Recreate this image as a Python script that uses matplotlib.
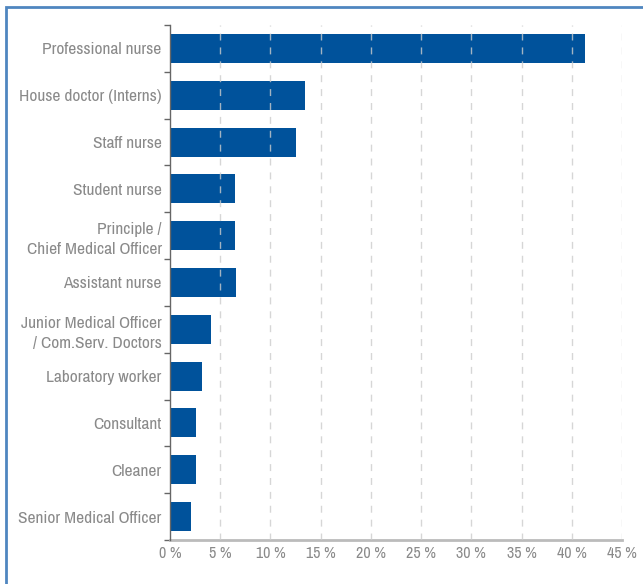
import matplotlib.pyplot as plt
from matplotlib.patches import Rectangle
from matplotlib.ticker import FixedLocator, FuncFormatter

plt.rcParams['font.family'] = ['Archivo Narrow', 'Roboto Condensed', 'DejaVu Sans']

# share of respondents per occupation (%)
occupations = [
    "Professional nurse",
    "House doctor (Interns)",
    "Staff nurse",
    "Student nurse",
    "Principle /\nChief Medical Officer",
    "Assistant nurse",
    "Junior Medical Officer\n/ Com.Serv. Doctors",
    "Laboratory worker",
    "Consultant",
    "Cleaner",
    "Senior Medical Officer",
]
shares = [41.3, 13.4, 12.5, 6.5, 6.5, 6.6, 4.1, 3.2, 2.6, 2.6, 2.1]
x_ticks = [0, 5, 10, 15, 20, 25, 30, 35, 40, 45]

bar_color = "#00529b"
text_color = "#8a8a8a"

fig = plt.figure(figsize=(6.43, 5.84), dpi=100)
ax = fig.add_axes([170 / 643, 1 - 540 / 584, 452 / 643, 515 / 584])

pos = list(range(len(occupations)))
ax.barh(pos, shares, height=0.62, color=bar_color, zorder=2)
ax.set_ylim(len(occupations) - 0.5, -0.5)
ax.set_xlim(0, 45)

ax.set_yticks(pos)
ax.set_yticklabels(occupations, fontsize=12.5, color=text_color, linespacing=1.4)
ax.tick_params(axis="y", length=0, pad=6)
# small marks between categories on the left spine
ax.yaxis.set_minor_locator(FixedLocator([p - 0.5 for p in pos] + [len(pos) - 0.5]))
ax.tick_params(axis="y", which="minor", length=4, color="#666666", width=1)

ax.set_xticks(x_ticks)
ax.xaxis.set_major_formatter(FuncFormatter(lambda v, _: f"{v:.0f} %"))
ax.tick_params(axis="x", length=0, pad=4, labelsize=11.5, labelcolor=text_color)

# dashed vertical grid, drawn over the bars
for v in x_ticks[1:]:
    ax.axvline(v, color="#cccccc", lw=1, ls=(0, (5, 5)), alpha=0.8, zorder=3)

for side in ("top", "right"):
    ax.spines[side].set_visible(False)
ax.spines["left"].set_color("#666666")
ax.spines["left"].set_linewidth(1)
ax.spines["left"].set_zorder(4)
ax.spines["bottom"].set_color("#bbbbbb")
ax.spines["bottom"].set_linewidth(2)

# outer frame (runs off the right and bottom edges)
fig.patches.append(Rectangle((5.5 / 643, -0.1), 1.2, 1 - 6.5 / 584 + 0.1,
                             transform=fig.transFigure, fill=False,
                             edgecolor="#4f86c0", lw=2, clip_on=False))

fig.savefig("out.png", dpi=100)
